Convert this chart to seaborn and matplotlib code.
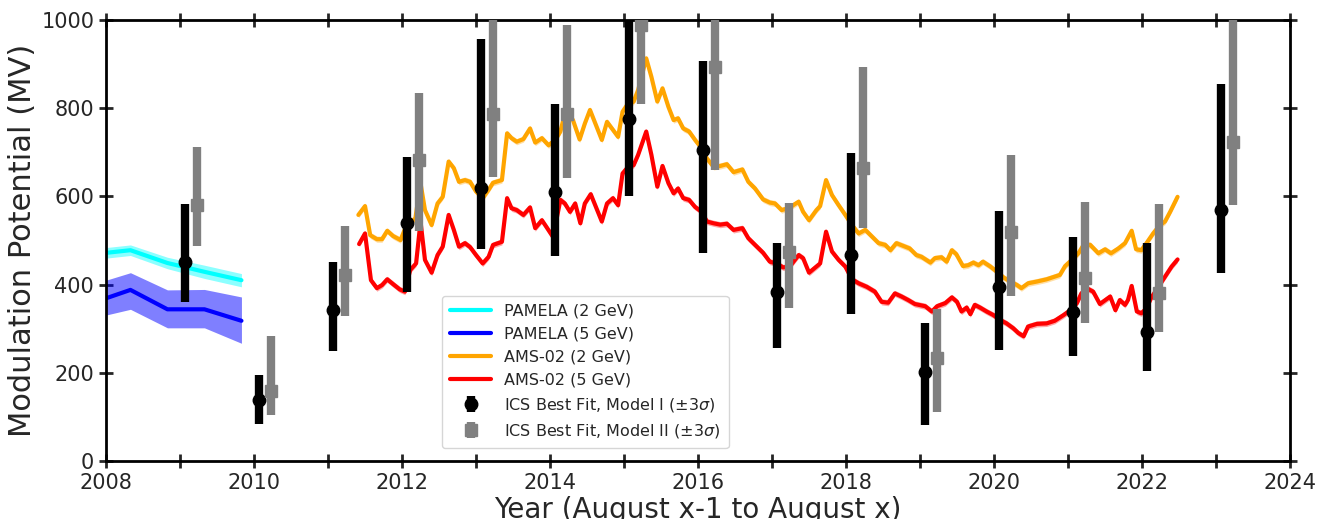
import numpy as np
import pandas as pd
import matplotlib
matplotlib.use("Agg")
import matplotlib.pyplot as plt
from matplotlib.ticker import MultipleLocator
import seaborn as sns

# PAMELA solar modulation potential (MV)
pam_t = [2008.00, 2008.33, 2008.83, 2009.33, 2009.83]
pam_2gev = [472, 478, 449, 429, 410]
pam_2gev_lo = [460, 466, 436, 414, 395]
pam_2gev_hi = [484, 490, 462, 444, 425]
pam_5gev = [369, 388, 344, 344, 318]
pam_5gev_lo = [331, 344, 302, 302, 267]
pam_5gev_hi = [410, 427, 388, 389, 372]

# AMS-02 solar modulation potential (MV), 2 GeV
ams_t_2gev = [
    2011.41, 2011.50, 2011.57, 2011.66, 2011.73, 2011.80, 2011.88, 2011.98, 2012.06, 2012.18,
    2012.25, 2012.31, 2012.40, 2012.48, 2012.55, 2012.63, 2012.70, 2012.77, 2012.85, 2012.92,
    2013.00, 2013.09, 2013.17, 2013.23, 2013.35, 2013.42, 2013.48, 2013.55, 2013.64, 2013.73,
    2013.80, 2013.89, 2013.98, 2014.07, 2014.14, 2014.19, 2014.25, 2014.31, 2014.40, 2014.47,
    2014.54, 2014.62, 2014.70, 2014.77, 2014.85, 2014.92, 2014.98, 2015.04, 2015.13, 2015.19,
    2015.30, 2015.37, 2015.45, 2015.52, 2015.60, 2015.67, 2015.73, 2015.80, 2015.88, 2015.96,
    2016.03, 2016.12, 2016.21, 2016.30, 2016.39, 2016.48, 2016.60, 2016.68, 2016.77, 2016.88,
    2016.97, 2017.04, 2017.13, 2017.22, 2017.36, 2017.42, 2017.50, 2017.60, 2017.65, 2017.73,
    2017.81, 2017.90, 2017.99, 2018.08, 2018.17, 2018.26, 2018.35, 2018.44, 2018.53, 2018.60,
    2018.68, 2018.77, 2018.86, 2018.95, 2019.02, 2019.14, 2019.20, 2019.29, 2019.36, 2019.43,
    2019.49, 2019.58, 2019.65, 2019.72, 2019.79, 2019.85, 2019.95, 2020.04, 2020.13, 2020.22,
    2020.31, 2020.37, 2020.46, 2020.58, 2020.71, 2020.82, 2020.89, 2020.96, 2021.05, 2021.14,
    2021.21, 2021.30, 2021.41, 2021.50, 2021.58, 2021.68, 2021.77, 2021.86, 2021.92, 2021.99,
    2022.06, 2022.15, 2022.24, 2022.31, 2022.38, 2022.48,
]
ams_phi_2gev = [
    558, 578, 512, 503, 503, 522, 510, 501, 535, 550,
    630, 569, 535, 584, 599, 679, 664, 633, 637, 633,
    611, 596, 615, 631, 637, 743, 732, 724, 730, 754,
    722, 732, 716, 728, 747, 781, 788, 773, 729, 765,
    796, 762, 728, 769, 751, 735, 792, 807, 815, 841,
    913, 871, 815, 845, 803, 773, 777, 754, 747, 728,
    713, 686, 667, 669, 673, 655, 661, 633, 618, 593,
    586, 584, 569, 573, 588, 565, 546, 569, 578, 637,
    603, 580, 558, 535, 516, 524, 509, 494, 490, 478,
    494, 488, 482, 467, 463, 450, 460, 462, 452, 478,
    469, 442, 444, 450, 444, 452, 441, 429, 416, 407,
    399, 392, 403, 407, 412, 418, 422, 442, 456, 471,
    490, 490, 471, 480, 471, 482, 494, 522, 480, 478,
    494, 516, 535, 543, 565, 599,
]

# AMS-02 solar modulation potential (MV), 5 GeV
ams_t_5gev = [
    2011.42, 2011.50, 2011.58, 2011.66, 2011.73, 2011.80, 2011.88, 2011.97, 2012.04, 2012.11,
    2012.19, 2012.25, 2012.31, 2012.40, 2012.48, 2012.55, 2012.63, 2012.70, 2012.77, 2012.85,
    2012.92, 2013.00, 2013.09, 2013.17, 2013.23, 2013.35, 2013.42, 2013.48, 2013.55, 2013.64,
    2013.73, 2013.80, 2013.89, 2013.95, 2014.04, 2014.14, 2014.20, 2014.27, 2014.34, 2014.41,
    2014.47, 2014.55, 2014.62, 2014.70, 2014.77, 2014.85, 2014.92, 2014.98, 2015.04, 2015.13,
    2015.19, 2015.30, 2015.37, 2015.45, 2015.52, 2015.60, 2015.67, 2015.73, 2015.80, 2015.88,
    2015.96, 2016.05, 2016.12, 2016.21, 2016.30, 2016.39, 2016.48, 2016.60, 2016.68, 2016.77,
    2016.88, 2016.97, 2017.06, 2017.15, 2017.24, 2017.36, 2017.42, 2017.50, 2017.60, 2017.65,
    2017.73, 2017.81, 2017.90, 2017.99, 2018.08, 2018.17, 2018.28, 2018.39, 2018.48, 2018.57,
    2018.66, 2018.75, 2018.84, 2018.93, 2019.07, 2019.16, 2019.23, 2019.34, 2019.43, 2019.50,
    2019.56, 2019.63, 2019.68, 2019.74, 2019.81, 2019.90, 2019.99, 2020.08, 2020.17, 2020.26,
    2020.33, 2020.40, 2020.46, 2020.58, 2020.71, 2020.82, 2020.94, 2021.03, 2021.12, 2021.18,
    2021.25, 2021.34, 2021.43, 2021.57, 2021.64, 2021.70, 2021.77, 2021.81, 2021.86, 2021.93,
    2021.99, 2022.06, 2022.12, 2022.21, 2022.31, 2022.40, 2022.48,
]
ams_phi_5gev = [
    492, 516, 410, 392, 399, 412, 401, 389, 384, 433,
    448, 543, 456, 427, 467, 486, 558, 524, 486, 494,
    485, 467, 448, 463, 490, 497, 596, 573, 569, 558,
    575, 528, 546, 531, 508, 592, 584, 565, 584, 539,
    584, 605, 576, 543, 584, 596, 580, 652, 664, 671,
    694, 747, 694, 622, 669, 630, 607, 618, 596, 592,
    576, 565, 543, 539, 536, 538, 524, 528, 505, 490,
    472, 452, 448, 439, 441, 467, 460, 427, 441, 448,
    520, 475, 456, 441, 412, 403, 395, 384, 361, 359,
    380, 373, 365, 356, 351, 339, 351, 358, 371, 361,
    339, 348, 333, 354, 348, 339, 331, 320, 312, 301,
    290, 283, 305, 311, 312, 318, 331, 342, 358, 380,
    392, 384, 356, 373, 342, 365, 354, 365, 397, 339,
    335, 346, 369, 392, 418, 441, 457,
]
ams_band_halfwidth = 7

# ICS best-fit modulation potentials per year (August x-1 to August x), with 3-sigma ranges
ics_year = np.arange(2009, 2024)
model1_phi = [452, 138, 342, 540, 619, 610, 775, 705, 383, 467, 202, 395, 338, 292, 569]
model1_lo = [360, 84, 249, 383, 481, 465, 601, 472, 256, 333, 82, 252, 238, 204, 426]
model1_hi = [583, 195, 451, 689, 957, 809, 1040, 907, 494, 698, 313, 567, 508, 494, 855]
model2_phi = [580, 159, 422, 683, 787, 787, 989, 893, 474, 664, 234, 519, 415, 381, 723]
model2_lo = [488, 104, 329, 522, 644, 642, 810, 660, 347, 528, 111, 374, 313, 293, 580]
model2_hi = [712, 283, 533, 834, 1060, 989, 1200, 1150, 585, 893, 345, 694, 587, 583, 1050]

sns.set_style("ticks")
plt.rcParams["font.family"] = ["DejaVu Sans"]

fig = plt.figure(figsize=(13.32, 5.19), dpi=100)
ax = fig.add_axes([0.0796, 0.1117, 0.8889, 0.8498])

# PAMELA bands and lines
ax.fill_between(pam_t, pam_2gev_lo, pam_2gev_hi, color="cyan", alpha=0.45, lw=0)
ax.fill_between(pam_t, pam_5gev_lo, pam_5gev_hi, color="blue", alpha=0.5, lw=0)
pam_df = pd.DataFrame({"t": pam_t, "phi2": pam_2gev, "phi5": pam_5gev})
sns.lineplot(data=pam_df, x="t", y="phi2", color="cyan", lw=3, ax=ax, label="PAMELA (2 GeV)")
sns.lineplot(data=pam_df, x="t", y="phi5", color="blue", lw=3, ax=ax, label="PAMELA (5 GeV)")

# AMS-02 bands and lines
a2 = np.array(ams_phi_2gev)
a5 = np.array(ams_phi_5gev)
ax.fill_between(ams_t_2gev, a2 - ams_band_halfwidth, a2 + ams_band_halfwidth,
                color="orange", alpha=0.35, lw=0)
ax.fill_between(ams_t_5gev, a5 - ams_band_halfwidth, a5 + ams_band_halfwidth,
                color="red", alpha=0.35, lw=0)
ams2_df = pd.DataFrame({"t": ams_t_2gev, "phi": ams_phi_2gev})
ams5_df = pd.DataFrame({"t": ams_t_5gev, "phi": ams_phi_5gev})
sns.lineplot(data=ams2_df, x="t", y="phi", color="orange", lw=3, ax=ax, label="AMS-02 (2 GeV)")
sns.lineplot(data=ams5_df, x="t", y="phi", color="red", lw=3, ax=ax, label="AMS-02 (5 GeV)")

# ICS best-fit points
m1 = np.array(model1_phi)
m2 = np.array(model2_phi)
ax.errorbar(ics_year + 0.07, m1, yerr=[m1 - np.array(model1_lo), np.array(model1_hi) - m1],
            fmt="o", color="black", ms=9, elinewidth=6, capsize=0, zorder=5,
            label=r"ICS Best Fit, Model I ($\pm3\sigma$)")
ax.errorbar(ics_year + 0.23, m2, yerr=[m2 - np.array(model2_lo), np.array(model2_hi) - m2],
            fmt="s", color="gray", ms=9, elinewidth=6, capsize=0, zorder=5,
            label=r"ICS Best Fit, Model II ($\pm3\sigma$)")

ax.set_xlim(2008, 2024)
ax.set_ylim(0, 1000)
ax.xaxis.set_major_locator(MultipleLocator(2))
ax.xaxis.set_minor_locator(MultipleLocator(1))
ax.yaxis.set_major_locator(MultipleLocator(200))
ax.tick_params(which="both", direction="inout", length=10, width=2,
               top=True, right=True, labelsize=15)
for s in ax.spines.values():
    s.set_linewidth(2)
    s.set_color("black")

ax.set_xlabel("Year (August x-1 to August x)", fontsize=20, labelpad=2)
ax.set_ylabel("Modulation Potential (MV)", fontsize=22, labelpad=3)

ax.legend(loc="lower left", bbox_to_anchor=(0.277, 0.012), fontsize=11.5,
          handlelength=2.6, borderpad=0.5, labelspacing=0.5)

fig.savefig("out.png", dpi=100)
